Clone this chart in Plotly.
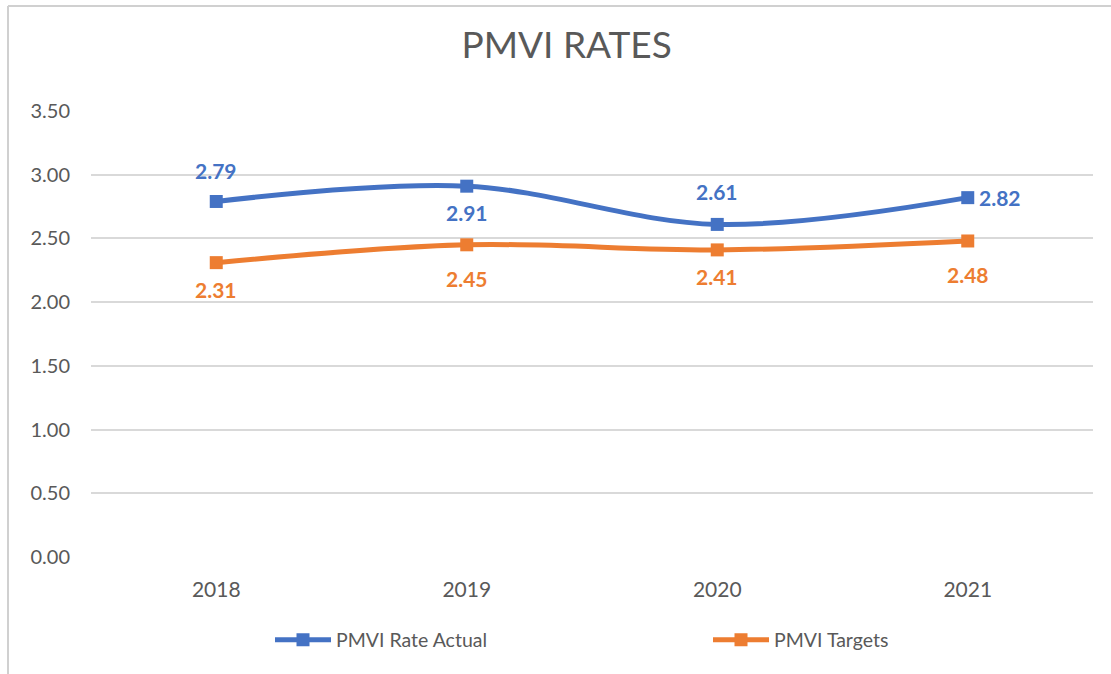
import plotly.graph_objects as go

years = ["2018", "2019", "2020", "2021"]
actual = [2.79, 2.91, 2.61, 2.82]
targets = [2.31, 2.45, 2.41, 2.48]
y_ticks = [0.0, 0.5, 1.0, 1.5, 2.0, 2.5, 3.0, 3.5]

BLUE = "#4472C4"
ORANGE = "#ED7D31"
FONT = "Lato"
GRAY = "#595959"

# label offsets (pixels) as placed in the original chart
actual_shift = [(0, 31), (0, -26), (0, 33), (32, 0)]
target_shift = [(0, -27), (0, -34), (0, -27), (0, -34)]

fig = go.Figure()
fig.add_trace(go.Scatter(
    x=years, y=actual, name="PMVI Rate Actual",
    mode="lines+markers",
    line=dict(color=BLUE, width=5, shape="spline", smoothing=1.0),
    marker=dict(symbol="square", size=13, color=BLUE),
    legend="legend",
))
fig.add_trace(go.Scatter(
    x=years, y=targets, name="PMVI Targets",
    mode="lines+markers",
    line=dict(color=ORANGE, width=5, shape="spline", smoothing=1.0),
    marker=dict(symbol="square", size=13, color=ORANGE),
    legend="legend2",
))

for vs, shifts, col in [(actual, actual_shift, BLUE), (targets, target_shift, ORANGE)]:
    for i, (v, (dx, dy)) in enumerate(zip(vs, shifts)):
        fig.add_annotation(x=i, y=v, xref="x", yref="y", text=f"{v:.2f}", showarrow=False,
                           xshift=dx, yshift=dy, xanchor="center", yanchor="middle",
                           font=dict(color=col, size=21, family=FONT, weight="bold"))

PW = 1002.0
PH = 446.0
def px_x(x):
    return (x - 91) / PW
def px_y(y):
    return (557 - y) / PH

fig.update_layout(
    width=1111, height=674,
    margin=dict(l=91, r=18, t=111, b=117),
    paper_bgcolor="white", plot_bgcolor="white",
    font=dict(family=FONT, color=GRAY),
    title=dict(text="PMVI RATES", x=0.51, xanchor="center", y=0.933, yanchor="middle",
               font=dict(size=37, color=GRAY, family=FONT)),
    xaxis=dict(type="category", range=[-0.5, 3.5], showgrid=False, zeroline=False,
               showline=False, ticks="", tickfont=dict(size=21, color=GRAY),
               ticklabelstandoff=18),
    yaxis=dict(range=[0, 3.5], tickvals=y_ticks, tickformat=".2f",
               showgrid=True, gridcolor="#D9D9D9", gridwidth=1.5, zeroline=False,
               showline=False, ticks="", tickfont=dict(size=20, color=GRAY),
               ticklabelstandoff=20),
    showlegend=True,
    legend=dict(x=px_x(270), xanchor="left", y=px_y(640), yanchor="middle",
                font=dict(size=19.5, color=GRAY), itemwidth=56, bgcolor="rgba(0,0,0,0)"),
    legend2=dict(x=px_x(708), xanchor="left", y=px_y(640), yanchor="middle",
                 font=dict(size=19.5, color=GRAY), itemwidth=56, bgcolor="rgba(0,0,0,0)"),
)

fig.add_shape(type="line", xref="paper", yref="paper", x0=px_x(8), x1=px_x(1111), y0=px_y(6), y1=px_y(6),
              line=dict(color="#D0D0D0", width=2))
fig.add_shape(type="line", xref="paper", yref="paper", x0=px_x(8), x1=px_x(8), y0=px_y(674), y1=px_y(6),
              line=dict(color="#D0D0D0", width=2))

fig.write_html("out.html", config={"displayModeBar": False},
               post_script="document.body.style.margin='0';document.body.style.overflow='hidden';")
